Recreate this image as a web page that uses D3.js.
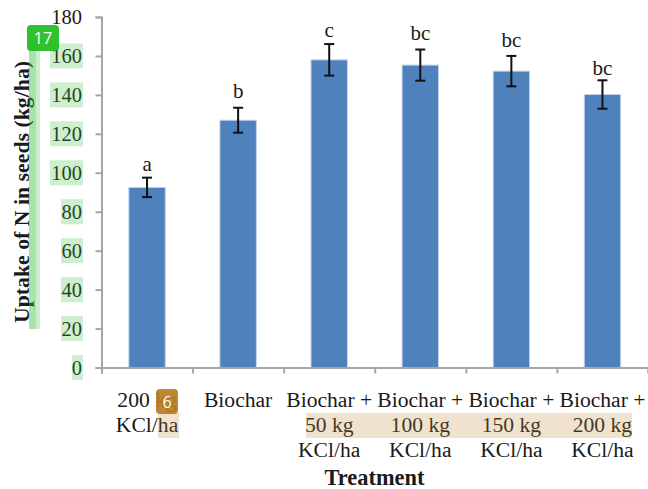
<!DOCTYPE html>
<html>
<head>
<meta charset="utf-8">
<script src="https://d3js.org/d3.v7.min.js"></script>
<style>
  html, body { margin: 0; padding: 0; background: #fff; }
  svg { display: block; }
  text { font-family: "Liberation Serif", serif; fill: #1a1a1a; }
</style>
</head>
<body>
<div id="chart"></div>
<script>
var svgWidth = 648;
var svgHeight = 489;

// data
var categories = [
  ["200 kg", "KCl/ha"],
  ["Biochar"],
  ["Biochar +", "50 kg", "KCl/ha"],
  ["Biochar +", "100 kg", "KCl/ha"],
  ["Biochar +", "150 kg", "KCl/ha"],
  ["Biochar +", "200 kg", "KCl/ha"]
];
var uptake = [92.5, 127, 158, 155.3, 152.2, 140.2];
var errors = [5, 6.4, 8.1, 8, 7.8, 7.3];
var letters = ["a", "b", "c", "bc", "bc", "bc"];
var yTicks = [0, 20, 40, 60, 80, 100, 120, 140, 160, 180];

var svg = d3.select("#chart").append("svg")
  .attr("width", svgWidth)
  .attr("height", svgHeight);

var plot = { left: 101.5, right: 648, top: 17, bottom: 367.5 };

var xScale = d3.scaleBand()
  .domain(d3.range(categories.length))
  .range([plot.left, plot.right])
  .paddingInner(0.6)
  .paddingOuter(0.3);

// ticks sit between the categories, not under them
var xEdges = d3.scaleLinear()
  .domain([0, categories.length])
  .range([plot.left, plot.right]);

var yScale = d3.scaleLinear()
  .domain([0, 180])
  .range([plot.bottom, plot.top]);

// bars
svg.selectAll("rect.bar")
  .data(uptake)
  .enter()
  .append("rect")
  .attr("class", "bar")
  .attr("x", (d, i) => xScale(i))
  .attr("y", d => yScale(d))
  .attr("width", xScale.bandwidth())
  .attr("height", d => yScale(0) - yScale(d))
  .attr("fill", "#4f81bd")
  .attr("stroke", "#c3d4ea")
  .attr("stroke-width", 1);

// error bars
var errGroup = svg.selectAll("g.err")
  .data(uptake)
  .enter()
  .append("g")
  .attr("class", "err")
  .attr("stroke", "#111")
  .attr("stroke-width", 2);

errGroup.append("line")
  .attr("x1", (d, i) => xScale(i) + xScale.bandwidth() / 2)
  .attr("x2", (d, i) => xScale(i) + xScale.bandwidth() / 2)
  .attr("y1", (d, i) => yScale(d + errors[i]))
  .attr("y2", (d, i) => yScale(d - errors[i]));

[1, -1].forEach(function(sign) {
  errGroup.append("line")
    .attr("x1", (d, i) => xScale(i) + xScale.bandwidth() / 2 - 5)
    .attr("x2", (d, i) => xScale(i) + xScale.bandwidth() / 2 + 5)
    .attr("y1", (d, i) => yScale(d + sign * errors[i]))
    .attr("y2", (d, i) => yScale(d + sign * errors[i]));
});

// significance letters, the gap above the error bar varies in the original
var letterGap = [6.6, 9.4, 6.7, 9.3, 8.7, 5.7];

svg.selectAll("text.letter")
  .data(letters)
  .enter()
  .append("text")
  .attr("class", "letter")
  .attr("x", (d, i) => xScale(i) + xScale.bandwidth() / 2)
  .attr("y", (d, i) => yScale(uptake[i] + errors[i]) - letterGap[i])
  .attr("text-anchor", "middle")
  .attr("font-size", 21)
  .text(d => d);

// axes
var yAxis = svg.append("g")
  .attr("transform", `translate(${plot.left}, 0)`)
  .call(d3.axisLeft(yScale).tickValues(yTicks).tickSize(6).tickPadding(13.5));

var xAxis = svg.append("g")
  .attr("transform", `translate(0, ${plot.bottom})`)
  .call(d3.axisBottom(xEdges).ticks(categories.length).tickSize(6).tickFormat(""));

[yAxis, xAxis].forEach(function(axis) {
  axis.selectAll("path, line").attr("stroke", "#a6a6a6").attr("stroke-width", 2);
  axis.select("path").attr("stroke-width", 2);
});

yAxis.selectAll("text")
  .attr("font-size", 20.5)
  .attr("font-family", "Liberation Serif")
  .attr("fill", "#1a1a1a");

// category labels, wrapped by hand as in the original
var catLabels = svg.selectAll("text.cat")
  .data(categories)
  .enter()
  .append("text")
  .attr("class", "cat")
  .attr("text-anchor", "middle")
  .attr("font-size", 21.6);

catLabels.selectAll("tspan")
  .data(d => d)
  .enter()
  .append("tspan")
  .text(d => d);

catLabels.each(function(d, i) {
  d3.select(this).selectAll("tspan")
    .attr("x", xScale(i) + xScale.bandwidth() / 2)
    .attr("y", (t, j) => 406.5 + j * 25.3);
});

// axis titles
svg.append("text")
  .attr("x", 374.5)
  .attr("y", 485)
  .attr("text-anchor", "middle")
  .attr("font-size", 22.4)
  .attr("font-weight", "bold")
  .text("Treatment");

svg.append("text")
  .attr("transform", "translate(29, 192) rotate(-90)")
  .attr("text-anchor", "middle")
  .attr("font-size", 21.8)
  .attr("font-weight", "bold")
  .text("Uptake of N in seeds (kg/ha)");

// highlight overlays that sit on top of the figure
var overlay = svg.append("g");
var green = "rgba(60,190,60,0.25)";
var tan = "rgba(190,140,60,0.25)";

overlay.selectAll("rect.tickmark")
  .data(yTicks.filter(d => d < 180))
  .enter()
  .append("rect")
  .attr("class", "tickmark")
  .attr("x", d => 83 - String(d).length * 11)
  .attr("y", d => yScale(d) - 12.5)
  .attr("width", d => String(d).length * 11)
  .attr("height", 25)
  .attr("fill", green);

overlay.append("rect").attr("x", 29).attr("y", 40).attr("width", 11).attr("height", 289).attr("fill", green);
overlay.append("rect").attr("x", 29).attr("y", 40).attr("width", 7).attr("height", 289).attr("fill", green);

overlay.append("rect").attr("x", 158).attr("y", 413).attr("width", 21).attr("height", 25).attr("fill", tan);
overlay.append("rect").attr("x", 306).attr("y", 413).attr("width", 326).attr("height", 25).attr("fill", tan);

function badge(x, y, w, h, fill, label) {
  overlay.append("rect")
    .attr("x", x).attr("y", y).attr("width", w).attr("height", h)
    .attr("rx", 4)
    .attr("fill", fill);
  overlay.append("text")
    .attr("x", x + w / 2)
    .attr("y", y + h / 2 + 6)
    .attr("text-anchor", "middle")
    .attr("font-size", 16)
    .style("font-family", "'Open Sans', sans-serif")
    .style("fill", "#fff")
    .text(label);
}

badge(27, 25, 32, 26, "rgba(40,190,40,0.96)", "17");
badge(156, 389, 22, 25, "rgba(182,125,30,0.92)", "6");
</script>
</body>
</html>
